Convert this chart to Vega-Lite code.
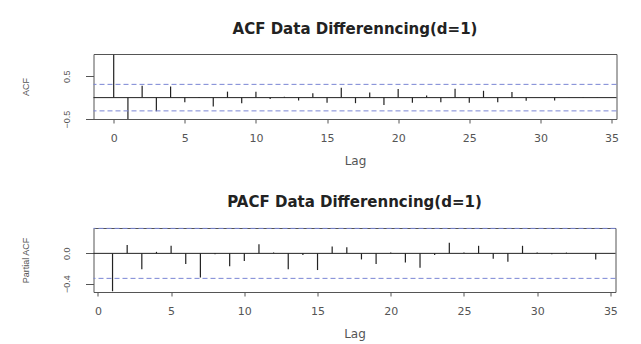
{
  "$schema": "https://vega.github.io/schema/vega-lite/v6.json",
  "background": "white",
  "padding": {"left": 20.5, "top": 21, "right": 5, "bottom": 2},
  "config": {
    "font": "DejaVu Sans",
    "view": {"stroke": "#555555", "strokeWidth": 1},
    "axis": {"grid": false, "domain": false, "tickColor": "#555555", "labelColor": "#555555", "titleFontWeight": "normal", "titleColor": "#555555", "labelFlush": false, "labelOverlap": false, "labelBound": false},
    "axisX": {"labelFont": "DejaVu Sans", "labelFontSize": 11, "titleFont": "DejaVu Sans", "titleFontSize": 12, "tickSize": 4, "labelPadding": 9, "titlePadding": 12},
    "axisY": {"labelFont": "Liberation Sans", "labelFontSize": 9, "titleFont": "Liberation Sans", "titleFontSize": 9, "tickSize": 8, "labelPadding": 14, "titlePadding": 32, "labelAngle": 270},
    "title": {"font": "DejaVu Sans", "fontSize": 15, "fontWeight": "bold", "color": "#222222", "anchor": "middle", "offset": 17.5},
    "concat": {"spacing": 27}
  },
  "datasets": {
    "acf": [
      {"lag": 0, "acf": 1.0}, {"lag": 1, "acf": -0.5}, {"lag": 2, "acf": 0.28}, {"lag": 3, "acf": -0.32},
      {"lag": 4, "acf": 0.26}, {"lag": 5, "acf": -0.11}, {"lag": 6, "acf": -0.01}, {"lag": 7, "acf": -0.21},
      {"lag": 8, "acf": 0.14}, {"lag": 9, "acf": -0.13}, {"lag": 10, "acf": 0.14}, {"lag": 11, "acf": -0.03},
      {"lag": 12, "acf": 0.02}, {"lag": 13, "acf": -0.065}, {"lag": 14, "acf": 0.10}, {"lag": 15, "acf": -0.12},
      {"lag": 16, "acf": 0.23}, {"lag": 17, "acf": -0.13}, {"lag": 18, "acf": 0.12}, {"lag": 19, "acf": -0.17},
      {"lag": 20, "acf": 0.20}, {"lag": 21, "acf": -0.12}, {"lag": 22, "acf": 0.05}, {"lag": 23, "acf": -0.11},
      {"lag": 24, "acf": 0.21}, {"lag": 25, "acf": -0.12}, {"lag": 26, "acf": 0.16}, {"lag": 27, "acf": -0.11},
      {"lag": 28, "acf": 0.13}, {"lag": 29, "acf": -0.075}, {"lag": 30, "acf": 0.0}, {"lag": 31, "acf": -0.065},
      {"lag": 32, "acf": 0.01}, {"lag": 33, "acf": -0.01}, {"lag": 34, "acf": 0.01}
    ],
    "pacf": [
      {"lag": 1, "pacf": -0.5}, {"lag": 2, "pacf": 0.11}, {"lag": 3, "pacf": -0.21}, {"lag": 4, "pacf": 0.02},
      {"lag": 5, "pacf": 0.10}, {"lag": 6, "pacf": -0.14}, {"lag": 7, "pacf": -0.32}, {"lag": 8, "pacf": -0.01},
      {"lag": 9, "pacf": -0.17}, {"lag": 10, "pacf": -0.10}, {"lag": 11, "pacf": 0.12}, {"lag": 12, "pacf": 0.01},
      {"lag": 13, "pacf": -0.21}, {"lag": 14, "pacf": -0.02}, {"lag": 15, "pacf": -0.22}, {"lag": 16, "pacf": 0.09},
      {"lag": 17, "pacf": 0.08}, {"lag": 18, "pacf": -0.08}, {"lag": 19, "pacf": -0.14}, {"lag": 20, "pacf": 0.01},
      {"lag": 21, "pacf": -0.12}, {"lag": 22, "pacf": -0.19}, {"lag": 23, "pacf": -0.02}, {"lag": 24, "pacf": 0.14},
      {"lag": 25, "pacf": 0.01}, {"lag": 26, "pacf": 0.10}, {"lag": 27, "pacf": -0.07}, {"lag": 28, "pacf": -0.11},
      {"lag": 29, "pacf": 0.10}, {"lag": 30, "pacf": 0.01}, {"lag": 31, "pacf": -0.01}, {"lag": 32, "pacf": 0.01},
      {"lag": 33, "pacf": 0.0}, {"lag": 34, "pacf": -0.08}
    ],
    "ci_acf": [{"v": 0.31}, {"v": -0.31}],
    "ci_pacf": [{"v": 0.33}, {"v": -0.33}],
    "zero": [{"v": 0}]
  },
  "vconcat": [
    {
      "title": "ACF Data Differenncing(d=1)",
      "width": 523,
      "height": 65,
      "layer": [
        {
          "data": {"name": "acf"},
          "mark": {"type": "rule", "color": "#222222", "strokeWidth": 1.2},
          "encoding": {
            "x": {"field": "lag", "type": "quantitative", "scale": {"domain": [-1.42, 35.35], "nice": false, "zero": false},
                  "axis": {"values": [0, 5, 10, 15, 20, 25, 30, 35], "title": "Lag"}},
            "y": {"field": "acf", "type": "quantitative", "scale": {"domain": [-0.5, 1.02], "nice": false, "zero": false},
                  "axis": {"values": [-0.5, 0.5], "title": "ACF", "format": ".1f"}},
            "y2": {"datum": 0}
          }
        },
        {
          "data": {"name": "ci_acf"},
          "mark": {"type": "rule", "color": "#7a86d4", "strokeDash": [5, 3], "strokeWidth": 1},
          "encoding": {"y": {"field": "v", "type": "quantitative"}}
        },
        {
          "data": {"name": "zero"},
          "mark": {"type": "rule", "color": "#222222", "strokeWidth": 1},
          "encoding": {"y": {"field": "v", "type": "quantitative"}}
        }
      ]
    },
    {
      "title": "PACF Data Differenncing(d=1)",
      "width": 522,
      "height": 64,
      "layer": [
        {
          "data": {"name": "pacf"},
          "mark": {"type": "rule", "color": "#222222", "strokeWidth": 1.2},
          "encoding": {
            "x": {"field": "lag", "type": "quantitative", "scale": {"domain": [-0.3, 35.35], "nice": false, "zero": false},
                  "axis": {"values": [0, 5, 10, 15, 20, 25, 30, 35], "title": "Lag"}},
            "y": {"field": "pacf", "type": "quantitative", "scale": {"domain": [-0.51, 0.335], "nice": false, "zero": false},
                  "axis": {"values": [-0.4, 0], "title": "Partial ACF", "format": ".1f"}},
            "y2": {"datum": 0}
          }
        },
        {
          "data": {"name": "ci_pacf"},
          "mark": {"type": "rule", "color": "#7a86d4", "strokeDash": [5, 3], "strokeWidth": 1},
          "encoding": {"y": {"field": "v", "type": "quantitative"}}
        },
        {
          "data": {"name": "zero"},
          "mark": {"type": "rule", "color": "#222222", "strokeWidth": 1},
          "encoding": {"y": {"field": "v", "type": "quantitative"}}
        }
      ]
    }
  ]
}
